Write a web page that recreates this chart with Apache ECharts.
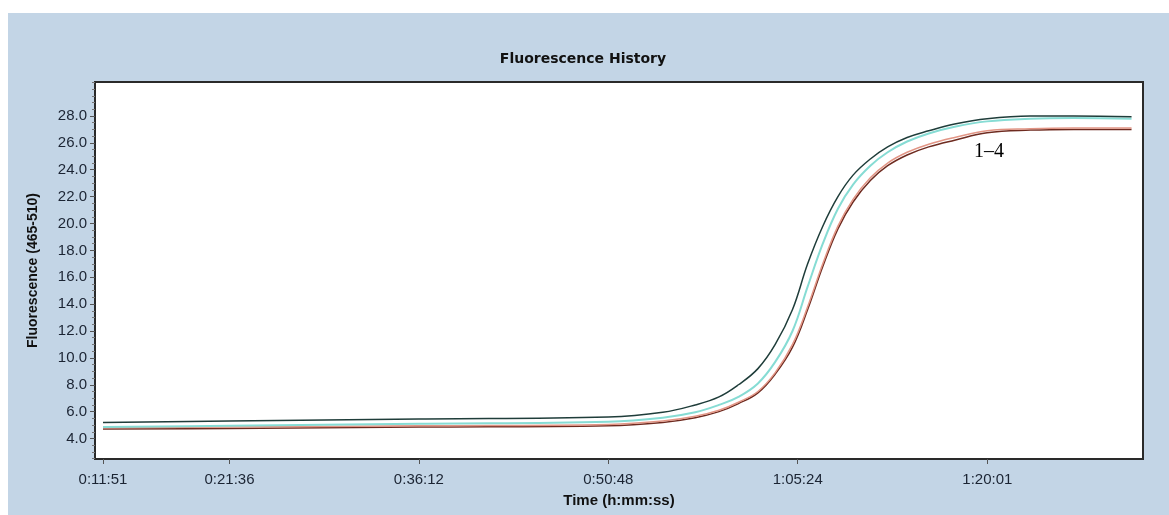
<!DOCTYPE html>
<html>
<head>
<meta charset="utf-8">
<script src="https://cdn.jsdelivr.net/npm/echarts@6/dist/echarts.min.js"></script>
<style>
  html, body { margin: 0; padding: 0; background: #ffffff; }
  #container { position: absolute; left: 8px; top: 13px; width: 1161px; height: 502px; }
</style>
</head>
<body>
<div id="container"></div>
<script>
// time in seconds since start of run
var times = [711, 1296, 2172, 3048, 3300, 3450, 3560, 3650, 3740, 3820, 3900, 3970,
             4040, 4110, 4180, 4260, 4340, 4430, 4530, 4650, 4800, 5000, 5200, 5468];

// fluorescence (465-510) for the four samples
var sampleDark   = [5.2, 5.3, 5.45, 5.6, 5.95, 6.5, 7.1, 8.0, 9.2, 11.0, 13.6, 17.0,
                    19.8, 22.0, 23.6, 24.8, 25.7, 26.4, 26.9, 27.4, 27.8, 28.0, 28.0, 27.95];
var sampleCyan   = [4.85, 4.95, 5.1, 5.25, 5.55, 5.95, 6.5, 7.1, 8.1, 9.7, 12.0, 15.3,
                    18.5, 21.1, 22.9, 24.3, 25.3, 26.1, 26.7, 27.2, 27.6, 27.8, 27.85, 27.8];
var sampleSalmon = [4.8, 4.85, 4.95, 5.05, 5.3, 5.65, 6.1, 6.7, 7.5, 8.9, 11.0, 13.8,
                    17.0, 19.8, 21.8, 23.4, 24.5, 25.3, 25.9, 26.4, 26.9, 27.05, 27.1, 27.1];
var sampleBrown  = [4.7, 4.75, 4.85, 4.95, 5.2, 5.55, 6.0, 6.6, 7.4, 8.8, 10.8, 13.6,
                    16.8, 19.6, 21.6, 23.2, 24.3, 25.1, 25.7, 26.2, 26.75, 26.95, 27.0, 27.0];

var xTicks = [711, 1296, 2172, 3048, 3924, 4801];   // 0:11:51 ... 1:20:01
var yTicks = [4, 6, 8, 10, 12, 14, 16, 18, 20, 22, 24, 26, 28];
var yMinor = [];
for (var v = 2.5; v <= 30.5; v += 0.5) {
    if (yTicks.indexOf(v) < 0) yMinor.push(v);
}

function pair(ys) {
    var out = [];
    for (var i = 0; i < times.length; i++) out.push([times[i], ys[i]]);
    return out;
}

function hms(s) {
    s = Math.round(s);
    var h = Math.floor(s / 3600);
    var m = Math.floor((s % 3600) / 60);
    var sec = s % 60;
    return h + ':' + (m < 10 ? '0' : '') + m + ':' + (sec < 10 ? '0' : '') + sec;
}

var dom = document.getElementById('container');
var myChart = echarts.init(dom);

var labelFont = { color: '#1b2433', fontSize: 15, fontFamily: 'Liberation Sans' };

var option = {
    backgroundColor: '#c3d5e6',
    animation: false,
    graphic: [
        {
            type: 'text',
            style: {
                text: 'Fluorescence History',
                x: 583 - 8, y: 59 - 13,
                align: 'center', verticalAlign: 'middle',
                font: 'bold 14px "DejaVu Sans"',
                fill: '#111111'
            }
        },
        {
            type: 'text',
            style: {
                text: '1–4',
                x: 989 - 8, y: 152 - 13,
                align: 'center', verticalAlign: 'middle',
                font: '20px "Liberation Serif"',
                fill: '#000000'
            },
            z: 100
        }
    ],
    grid: {
        left: 87, top: 69, right: 26, bottom: 56,
        show: true,
        backgroundColor: '#ffffff',
        borderColor: '#2a2a2a',
        borderWidth: 2
    },
    xAxis: {
        type: 'value',
        min: 674,
        max: 5521,
        name: 'Time (h:mm:ss)',
        nameLocation: 'middle',
        nameGap: 34,
        nameTextStyle: { fontWeight: 'bold', fontSize: 15, color: '#111', fontFamily: 'Liberation Sans' },
        axisLine: { show: false },
        splitLine: { show: false },
        axisTick: { show: true, length: 5, customValues: xTicks, lineStyle: { color: '#555' } },
        axisLabel: Object.assign({ customValues: xTicks, margin: 13, formatter: function (v) { return hms(v); } }, labelFont)
    },
    yAxis: [
        {
            type: 'value',
            min: 2.475,
            max: 30.53,
            name: 'Fluorescence (465-510)',
            nameLocation: 'middle',
            nameGap: 55,
            nameTextStyle: { fontWeight: 'bold', fontSize: 14, color: '#111', fontFamily: 'Liberation Sans' },
            axisLine: { show: false },
            splitLine: { show: false },
            axisTick: { show: true, length: 5, customValues: yTicks, lineStyle: { color: '#555' } },
            axisLabel: Object.assign({ customValues: yTicks, margin: 8, formatter: function (v) { return v.toFixed(1); } }, labelFont)
        },
        {
            type: 'value',
            min: 2.475,
            max: 30.53,
            position: 'left',
            axisLine: { show: false },
            splitLine: { show: false },
            axisLabel: { show: false },
            axisTick: { show: true, length: 3, customValues: yMinor, lineStyle: { color: '#777' } }
        }
    ],
    series: [
        { name: 'Sample 4', type: 'line', data: pair(sampleBrown), showSymbol: false, smooth: 0.4,
          lineStyle: { color: '#6e2b20', width: 1.5 } },
        { name: 'Sample 3', type: 'line', data: pair(sampleSalmon), showSymbol: false, smooth: 0.4,
          lineStyle: { color: '#e29585', width: 1.5 } },
        { name: 'Sample 2', type: 'line', data: pair(sampleCyan), showSymbol: false, smooth: 0.4,
          lineStyle: { color: '#86dcd4', width: 2 } },
        { name: 'Sample 1', type: 'line', data: pair(sampleDark), showSymbol: false, smooth: 0.4,
          lineStyle: { color: '#1f3d3a', width: 1.5 } }
    ]
};

if (option && typeof option === 'object') {
    myChart.setOption(option, true);
    window.onresize = function () {
        myChart.resize();
    };
}
</script>
</body>
</html>
